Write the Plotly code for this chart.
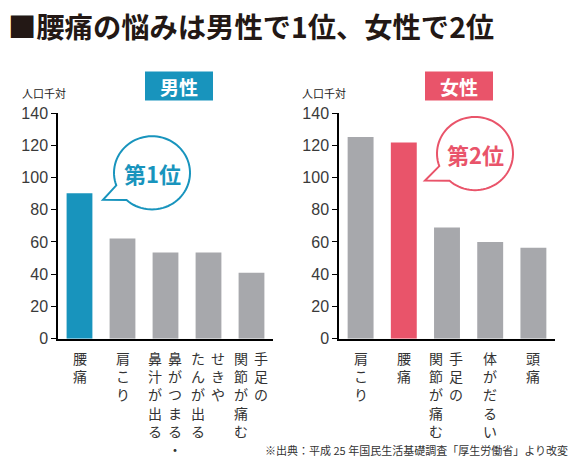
import numpy as np
import plotly.graph_objects as go

# Data (人口千対, 平成25年 国民生活基礎調査)

male_label_cols = [["腰痛"], ["肩こり"], ["鼻がつまる・", "鼻汁が出る"], ["せきや", "たんが出る"], ["手足の", "関節が痛む"]]
male_values = [90.3, 62.2, 53.4, 53.4, 40.9]
female_label_cols = [["肩こり"], ["腰痛"], ["手足の", "関節が痛む"], ["体がだるい"], ["頭痛"]]
female_values = [125.2, 121.7, 69.0, 60.0, 56.4]
y_ticks = [0, 20, 40, 60, 80, 100, 120, 140]
focus = "腰痛"

# Style

W, H = 575, 472
teal = "#1894BD"
red = "#E9546A"
gray = "#A7A8AC"
ink = "#231815"
jp = "Noto Sans CJK JP"

def px(x): return x / W
def py(y): return 1 - y / H

male_cats = ["".join(c) for c in male_label_cols]
female_cats = ["".join(c) for c in female_label_cols]

fig = go.Figure()
fig.add_trace(go.Bar(x=male_cats, y=male_values, xaxis="x", yaxis="y",
                     marker=dict(color=[teal if c == focus else gray for c in male_cats], line_width=0)))
fig.add_trace(go.Bar(x=female_cats, y=female_values, xaxis="x2", yaxis="y2",
                     marker=dict(color=[red if c == focus else gray for c in female_cats], line_width=0)))

xa = dict(showline=True, linecolor="black", linewidth=1.5, ticks="", showticklabels=False,
          showgrid=False, zeroline=False, fixedrange=True)
ya = dict(range=[0, 140], tickvals=y_ticks, showline=True, linecolor="black", linewidth=1.5,
          ticks="outside", ticklen=5, tickwidth=1.2, tickcolor="black", showgrid=False, zeroline=False,
          tickfont=dict(family="Liberation Sans", size=16, color="#3a3a3a"), domain=[py(343), py(109)])

fig.update_layout(
    width=W, height=H, margin=dict(l=0, r=0, t=0, b=0),
    paper_bgcolor="white", plot_bgcolor="white", showlegend=False, bargap=0.4,
    xaxis=dict(xa, domain=[px(58), px(273)], anchor="y"),
    yaxis=dict(ya, anchor="x"),
    xaxis2=dict(xa, domain=[px(339), px(555)], anchor="y2"),
    yaxis2=dict(ya, anchor="x2"),
)

ann = []
shapes = []

# vertical category labels, columns read right to left
for xref, cols_list in (("x", male_label_cols), ("x2", female_label_cols)):
    for i, cols in enumerate(cols_list):
        n = len(cols)
        for j, col in enumerate(cols):
            xs = (n - 1) * 10 - j * 20 - (1 if n > 1 else 0)
            ann.append(dict(x=i, xref=xref, y=py(351), yref="paper", text="<br>".join(col),
                            showarrow=False, xanchor="center", yanchor="top", xshift=xs,
                            font=dict(family=jp, size=14, color="#333333")))

# title, units, source
ann.append(dict(x=px(6), y=py(18), xref="paper", yref="paper", text="■腰痛の悩みは男性で1位、女性で2位",
                showarrow=False, xanchor="left", yanchor="middle",
                font=dict(family=jp, size=28.3, color=ink, weight="bold")))
for x0 in (20, 300):
    ann.append(dict(x=px(x0), y=py(88), xref="paper", yref="paper", text="人口千対", showarrow=False,
                    xanchor="left", yanchor="middle", font=dict(family=jp, size=11, color="#222222")))
ann.append(dict(x=px(570), y=py(459), xref="paper", yref="paper",
                text="※出典：平成 25 年国民生活基礎調査「厚生労働省」より改変", showarrow=False,
                xanchor="right", yanchor="middle", font=dict(family=jp, size=11, color="#333333")))

# badges
for x0, label, col in ((145, "男性", teal), (425, "女性", red)):
    shapes.append(dict(type="rect", xref="paper", yref="paper", x0=px(x0), x1=px(x0 + 68),
                       y0=py(96), y1=py(66), fillcolor=col, line_width=0))
    ann.append(dict(x=px(x0 + 34), y=py(81), xref="paper", yref="paper", text=label, showarrow=False,
                    xanchor="center", yanchor="middle",
                    font=dict(family=jp, size=19, color="white", weight="bold")))

# speech bubbles
def bubble(cx, cy, r, tip):
    t = np.radians(np.linspace(160, 132 + 360, 80))
    xs = cx + r * np.cos(t)
    ys = cy + r * np.sin(t)
    pts = [f"{px(a):.5f},{py(b):.5f}" for a, b in zip(xs, ys)]
    return "M " + " L ".join(pts) + f" L {px(tip[0]):.5f},{py(tip[1]):.5f} Z"

for cx, cy, tip, label, col in ((152, 171, (103, 199), "第1位", teal), (475, 151, (425, 179), "第2位", red)):
    shapes.append(dict(type="path", xref="paper", yref="paper", path=bubble(cx, cy, 38, tip),
                       fillcolor="white", line=dict(color=col, width=2)))
    ann.append(dict(x=px(cx), y=py(cy), xref="paper", yref="paper", text=label, showarrow=False,
                    xanchor="center", yanchor="middle",
                    font=dict(family=jp, size=22, color=col, weight="bold")))

fig.update_layout(annotations=ann, shapes=shapes)

# page body margin off so the chart sits at the window's top-left
fig.write_html("out.html", config={"displayModeBar": False},
               post_script="document.body.style.margin='0px';")
